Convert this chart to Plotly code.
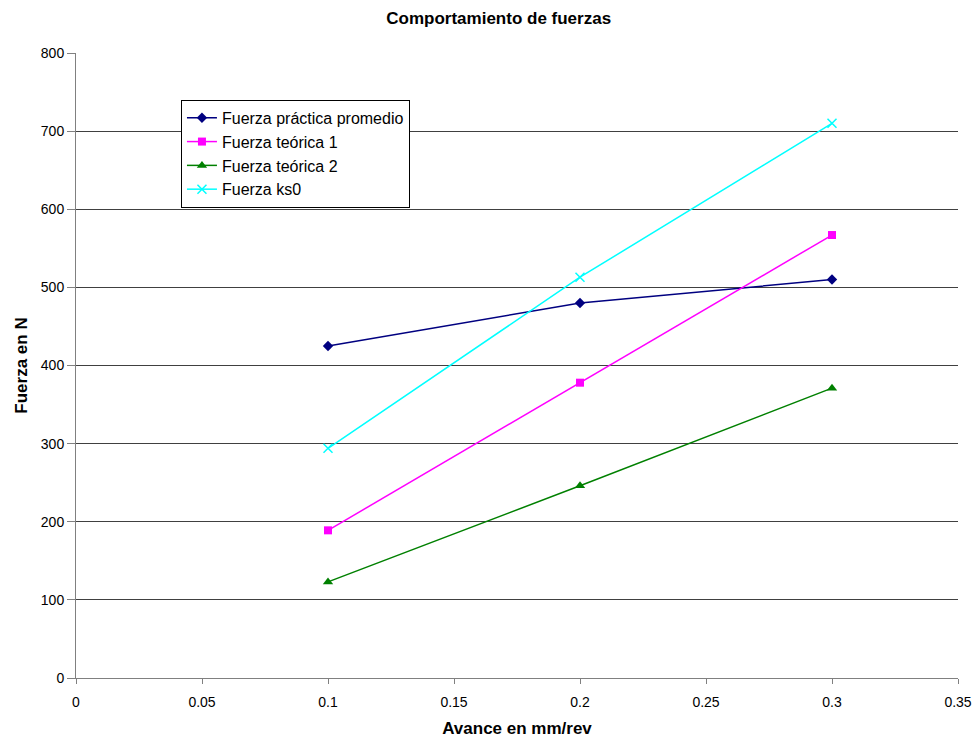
import plotly.graph_objects as go

# Feed rate (mm/rev) and the measured / theoretical cutting forces (N)
avance = [0.1, 0.2, 0.3]
fuerza_practica = [425, 480, 510]
fuerza_teorica_1 = [189, 378, 567]
fuerza_teorica_2 = [123, 246, 371]
fuerza_ks0 = [294, 513, 710]

x_ticks = [0, 0.05, 0.1, 0.15, 0.2, 0.25, 0.3, 0.35]
y_ticks = [0, 100, 200, 300, 400, 500, 600, 700, 800]

series = [
    ("Fuerza práctica promedio", fuerza_practica, "#000080",
     dict(symbol="diamond", size=8, color="#000080")),
    ("Fuerza teórica 1", fuerza_teorica_1, "#FF00FF",
     dict(symbol="square", size=8, color="#FF00FF")),
    ("Fuerza teórica 2", fuerza_teorica_2, "#008000",
     dict(symbol="triangle-up", size=9, color="#008000")),
    ("Fuerza ks0", fuerza_ks0, "#00FFFF",
     dict(symbol="x-thin", size=9, color="#00FFFF",
          line=dict(color="#00FFFF", width=1.5))),
]

fig = go.Figure()
for name, values, color, marker in series:
    fig.add_trace(go.Scatter(
        x=avance, y=values, name=name, mode="lines+markers",
        line=dict(color=color, width=1.5), marker=marker,
    ))

font_family = "Liberation Sans, Arial, sans-serif"

fig.update_layout(
    width=974, height=738,
    margin=dict(l=76, r=16, t=53, b=60, autoexpand=False),
    paper_bgcolor="white", plot_bgcolor="white",
    font=dict(family=font_family, size=14, color="black"),
    title=dict(text="<b>Comportamiento de fuerzas</b>", x=0.512, xanchor="center",
               y=0.976, yanchor="middle", font=dict(size=17, family=font_family)),
    legend=dict(x=0.119, y=0.925, xanchor="left", yanchor="top",
                bgcolor="white", bordercolor="black", borderwidth=1,
                font=dict(size=16, family=font_family), tracegroupgap=0,
                itemwidth=30),
    xaxis=dict(
        range=[0, 0.35], tickvals=x_ticks, ticktext=[f"{v:g}" for v in x_ticks],
        showgrid=False, zeroline=False, showline=True, linecolor="#808080",
        linewidth=1, ticks="outside", ticklen=5, tickcolor="#808080",
        ticklabelstandoff=6, automargin=False,
        title=dict(text="<b>Avance en mm/rev</b>", font=dict(size=17), standoff=14),
    ),
    yaxis=dict(
        range=[0, 800], tickvals=y_ticks,
        showgrid=True, gridcolor="#404040", gridwidth=1, zeroline=False,
        showline=True, linecolor="#808080", linewidth=1,
        ticks="outside", ticklen=8, tickcolor="#808080", automargin=False,
        title=dict(text="<b>Fuerza en N</b>", font=dict(size=17), standoff=8),
    ),
)

fig.write_html("out.html")
